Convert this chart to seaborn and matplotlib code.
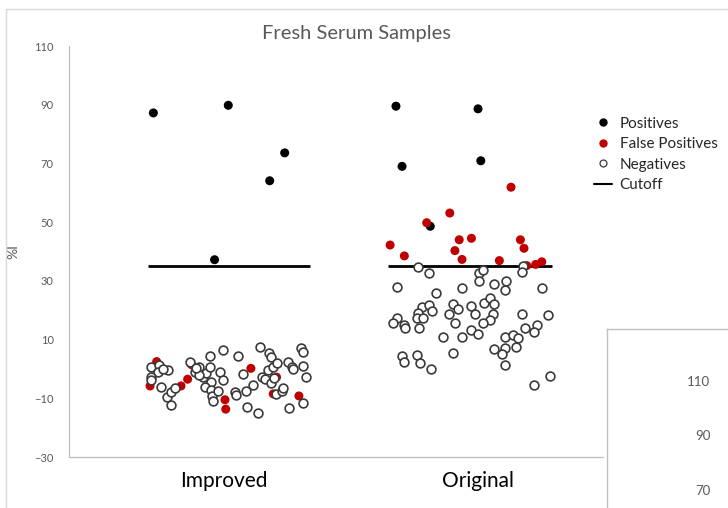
import numpy as np
import pandas as pd
import matplotlib.pyplot as plt
import seaborn as sns
from matplotlib.lines import Line2D

# Dữ liệu (vị trí x theo đơn vị nhóm: Improved = 1, Original = 2)
categories = ['Improved', 'Original']
cutoff = 35
cutoff_start = [0.700, 1.646]
cutoff_end = [1.339, 2.291]

imp_pos_x = [0.722, 1.017, 1.239, 1.180, 0.963]
imp_pos_y = [87.2, 89.8, 73.6, 64.1, 37.2]

imp_fp_x = [0.735, 0.709, 0.831, 0.857, 0.873, 1.004, 1.007, 1.106, 1.207, 1.194, 1.295]
imp_fp_y = [2.5, -5.8, -5.8, -3.5, 1.4, -10.5, -13.7, 0.2, -2.8, -8.5, -9.2]

imp_neg_x = [0.713, 0.745, 0.781, 0.741, 0.713, 0.713, 0.751, 0.774, 0.790, 0.807,
             0.791, 0.761, 0.866, 0.903, 0.886, 0.916, 0.929, 0.945, 0.945, 0.949,
             0.925, 0.947, 0.951, 0.955, 0.978, 0.984, 0.995, 0.995, 1.043, 1.047,
             1.054, 1.074, 1.087, 1.116, 1.092, 1.133, 1.142, 1.148, 1.161, 1.178,
             1.184, 1.175, 1.184, 1.194, 1.207, 1.197, 1.205, 1.227, 1.253, 1.266,
             1.273, 1.257, 1.303, 1.310, 1.310, 1.312, 1.323, 0.903, 0.890, 1.231]
imp_neg_y = [0.6, 1.4, -0.3, -1.2, -2.6, -3.7, -6.2, -9.6, -8.0, -6.6,
             -12.2, -0.1, 2.5, 0.8, -1.2, -2.6, -1.5, 4.4, 0.8, -4.3,
             -6.2, -7.1, -9.2, -10.9, -7.4, -1.2, -3.7, 6.5, -7.7, -8.8,
             4.4, -1.7, -7.4, -5.4, -13.0, -14.9, 7.6, -2.8, -3.5, 5.3,
             4.2, -0.3, -4.9, 0.8, 1.9, -3.2, -8.5, -7.4, 2.5, 0.8,
             -0.1, -13.4, 7.0, 5.6, 1.0, -11.7, -2.8, -2.0, 0.2, -6.6]

ori_pos_x = [1.677, 2.000, 1.701, 2.011, 1.812]
ori_pos_y = [89.5, 88.6, 69.0, 70.9, 48.6]

ori_fp_x = [2.130, 1.889, 1.798, 1.654, 1.710, 1.926, 1.974, 1.909, 1.937, 2.084,
            2.167, 2.181, 2.192, 2.227, 2.251]
ori_fp_y = [61.9, 53.1, 49.8, 42.2, 38.5, 44.0, 44.5, 40.3, 37.3, 36.9,
            44.0, 41.1, 35.2, 35.6, 36.5]

ori_neg_x = [1.762, 1.807, 2.005, 2.021, 2.005, 2.178, 2.172, 1.682, 1.835, 1.936,
             2.064, 2.110, 2.106, 2.253, 1.778, 1.808, 1.817, 1.765, 1.759, 1.785,
             1.682, 1.667, 1.709, 1.711, 1.766, 1.900, 1.923, 1.886, 1.909, 1.972,
             1.988, 2.025, 2.047, 2.063, 2.058, 2.047, 2.021, 1.972, 2.001, 1.863,
             1.936, 2.172, 2.274, 2.231, 2.222, 2.185, 2.106, 2.136, 2.159, 2.150,
             2.064, 2.106, 2.093, 2.106, 1.900, 1.702, 1.710, 1.759, 1.772, 1.815,
             2.222, 2.283]
ori_neg_y = [34.6, 32.8, 32.8, 33.7, 30.1, 35.1, 33.0, 27.8, 26.0, 27.5,
             28.9, 30.1, 26.9, 27.5, 21.0, 21.8, 19.9, 19.2, 17.2, 17.2,
             17.2, 15.8, 15.0, 13.8, 13.8, 22.1, 20.5, 18.7, 15.8, 21.4,
             18.7, 22.6, 24.1, 22.1, 18.7, 16.5, 15.8, 13.3, 11.9, 10.8,
             10.8, 18.7, 18.4, 15.0, 12.7, 13.8, 10.8, 11.6, 10.4, 7.4,
             6.7, 7.0, 5.1, 1.3, 5.5, 4.4, 2.5, 4.7, 1.9, -0.1,
             -5.5, -2.4]

# Bảng dữ liệu dài cho seaborn
def make_df(x, y, kind):
    return pd.DataFrame({'x': x, 'value': y, 'kind': kind})

df = pd.concat([
    make_df(imp_pos_x + ori_pos_x, imp_pos_y + ori_pos_y, 'Positives'),
    make_df(imp_fp_x + ori_fp_x, imp_fp_y + ori_fp_y, 'False Positives'),
    make_df(imp_neg_x + ori_neg_x, imp_neg_y + ori_neg_y, 'Negatives'),
], ignore_index=True)

sns.set_style('white')
plt.rcParams['font.family'] = ['Lato', 'DejaVu Sans']

fig = plt.figure(figsize=(7.28, 5.08), dpi=100)
ax = fig.add_axes([69 / 728, 51 / 508, 534 / 728, 411 / 508])

# Đường cutoff cho từng nhóm
for x0, x1 in zip(cutoff_start, cutoff_end):
    ax.hlines(cutoff, x0, x1, color='black', lw=2, zorder=1)

sns.scatterplot(data=df[df['kind'] == 'Positives'], x='x', y='value', ax=ax,
                color='black', s=42, edgecolor='none', zorder=2)
sns.scatterplot(data=df[df['kind'] == 'False Positives'], x='x', y='value', ax=ax,
                color='#C00000', s=42, edgecolor='none', zorder=3)
sns.scatterplot(data=df[df['kind'] == 'Negatives'], x='x', y='value', ax=ax,
                facecolor='white', edgecolor='#3a3a3a', linewidth=1.2, s=40, zorder=4)

ax.set_xlim(0.390, 2.492)
ax.set_ylim(-30, 110)
ax.set_yticks(np.arange(-30, 111, 20))
ax.set_xticks([1, 2])
ax.set_xticklabels(categories)
ax.tick_params(axis='x', length=0, pad=10, labelsize=15, labelcolor='black')
ax.tick_params(axis='y', direction='in', length=3, width=0.8, color='#BFBFBF',
               pad=11, labelsize=8, labelcolor='#595959')
ax.set_xlabel('')
ax.set_ylabel('%I', fontsize=10, color='#595959')
ax.yaxis.set_label_coords(-0.092, 0.5)
for s in ['top', 'right']:
    ax.spines[s].set_visible(False)
for s in ['left', 'bottom']:
    ax.spines[s].set_color('#BFBFBF')
    ax.spines[s].set_linewidth(0.9)

fig.text(357 / 728, 1 - 33 / 508, 'Fresh Serum Samples', ha='center', va='center',
         fontsize=14.5, color='#595959')

# Chú thích
handles = [
    Line2D([], [], ls='', marker='o', ms=5, mfc='black', mec='black'),
    Line2D([], [], ls='', marker='o', ms=5, mfc='#C00000', mec='#C00000'),
    Line2D([], [], ls='', marker='o', ms=5, mfc='white', mec='#3a3a3a', mew=0.9),
    Line2D([], [], color='black', lw=1.5),
]
fig.legend(handles, ['Positives', 'False Positives', 'Negatives', 'Cutoff'],
           loc='upper left', bbox_to_anchor=(580 / 728, 1 - 103 / 508), frameon=False,
           fontsize=11, handlelength=1.2, handletextpad=0.5, labelspacing=0.42)

# Khung biểu đồ Excel
fig.add_artist(Line2D([6 / 728, 6 / 728], [0, 1 - 9 / 508], color='#D9D9D9', lw=1))
fig.add_artist(Line2D([6 / 728, 1], [1 - 9 / 508, 1 - 9 / 508], color='#D9D9D9', lw=1))

# Biểu đồ thứ hai bị che một phần ở góc dưới phải
box = fig.add_axes([607 / 728, 0, 121 / 728, 179 / 508])
box.set_xticks([])
box.set_yticks([])
box.set_facecolor('white')
for s in ['right', 'bottom']:
    box.spines[s].set_visible(False)
for s in ['left', 'top']:
    box.spines[s].set_color('#BFBFBF')
    box.spines[s].set_linewidth(1)
ax2 = fig.add_axes([727 / 728, 0, 0.001, 160 / 508])
ax2.set_ylim(70 - 18 / 2.725, 70 + 142 / 2.725)
ax2.set_yticks([110, 90, 70])
ax2.set_xticks([])
ax2.patch.set_alpha(0)
for s in ['top', 'right', 'bottom', 'left']:
    ax2.spines[s].set_visible(False)
ax2.tick_params(axis='y', length=3, color='#BFBFBF', pad=9, labelsize=9.5,
                labelcolor='#595959')

fig.savefig('out.png', dpi=100)
